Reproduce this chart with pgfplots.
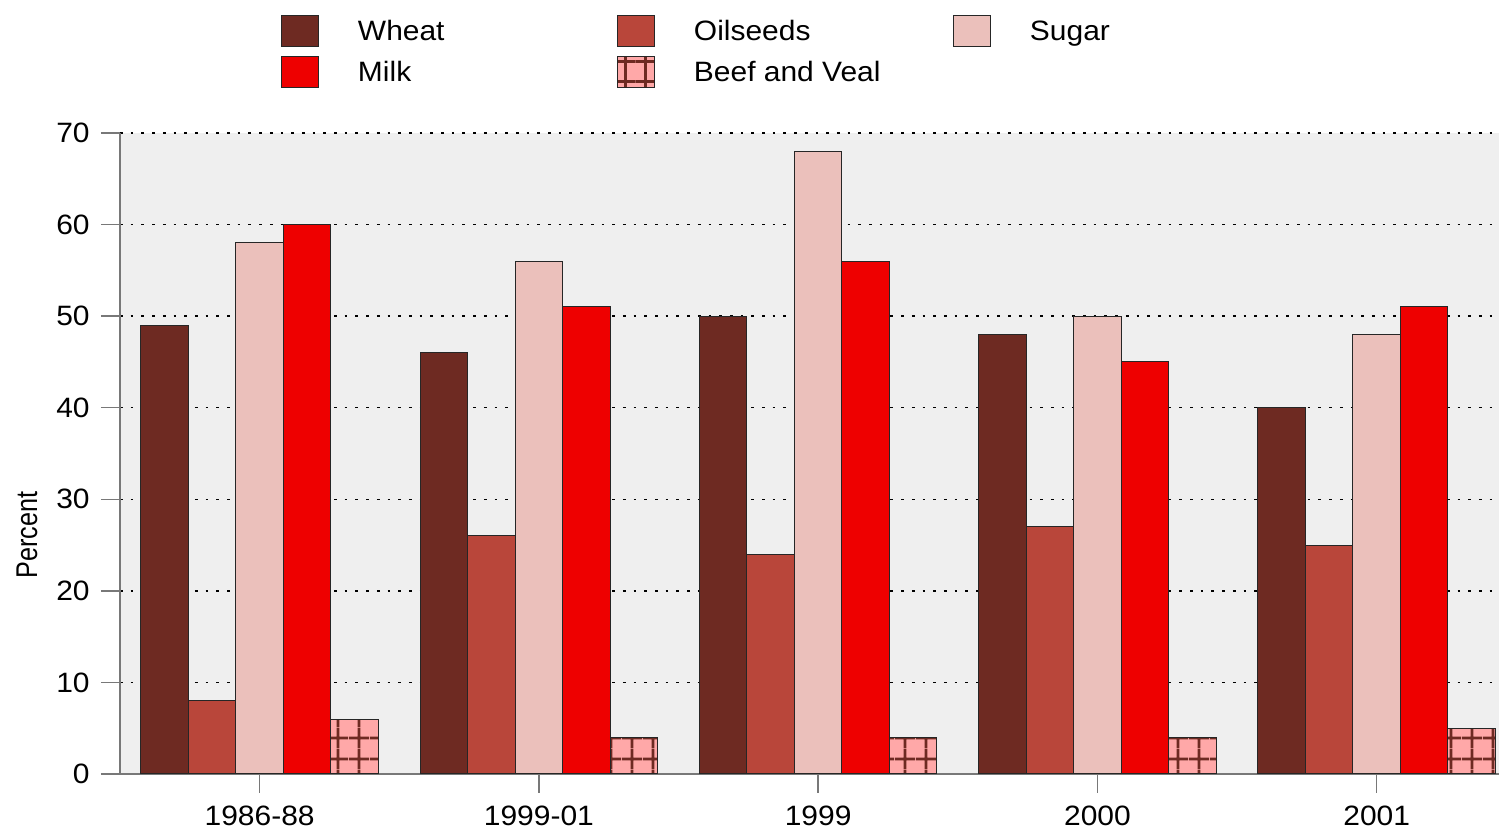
\documentclass[border=0pt]{standalone}
\usepackage{pgfplots}
\pgfplotsset{compat=1.18}
\usepackage{fontspec}
\setmainfont{Liberation Sans}
\newfontfamily\lblfont{Liberation Sans}[FakeStretch=1.07]
\newfontfamily\pctfont{Liberation Sans}[FakeStretch=0.84]
\usetikzlibrary{patterns}
\definecolor{wheatc}{RGB}{110,42,34}
\definecolor{oilc}{RGB}{185,70,58}
\definecolor{sugarc}{RGB}{235,192,187}
\definecolor{milkc}{RGB}{238,0,0}
\definecolor{beefc}{RGB}{255,168,168}
\definecolor{bgc}{RGB}{239,239,239}
\definecolor{axc}{RGB}{120,120,120}
\pgfdeclarepatternformonly{beefgrid}{\pgfpoint{0pt}{0pt}}{\pgfpoint{10.25pt}{10.25pt}}{\pgfpoint{10.25pt}{10.25pt}}{%
  \pgfsetlinewidth{1.4pt}%
  \pgfpathmoveto{\pgfpoint{0pt}{5.1pt}}\pgfpathlineto{\pgfpoint{10.25pt}{5.1pt}}%
  \pgfpathmoveto{\pgfpoint{5.1pt}{0pt}}\pgfpathlineto{\pgfpoint{5.1pt}{10.25pt}}%
  \pgfusepath{stroke}}
\newcommand{\lgt}[1]{\makebox[129.5pt][l]{\rule[-3pt]{0pt}{15.7pt}#1}}
\begin{document}
\begin{tikzpicture}
\useasboundingbox (0,0) rectangle (749.5pt,415pt);
\begin{axis}[
  at={(60pt,28pt)}, anchor=south west,
  width=689.5pt, height=320.5pt, scale only axis,
  xmin=-0.5, xmax=4.438, ymin=0, ymax=70,
  ybar=0pt, bar width=0.1701,
  xtick={0,1,2,3,4},
  xticklabels={1986-88,1999-01,1999,2000,2001},
  ytick={0,10,...,70},
  axis x line*=bottom, axis y line*=left,
  axis line style={draw=axc, line width=0.75pt, -},
  tick align=outside, major tick length=9.5pt,
  tick style={draw=axc, line width=0.75pt},
  ymajorgrids,
  major grid style={draw=black, line width=0.65pt, dash pattern=on 1.35pt off 4pt},
  axis background/.style={fill=bgc},
  /pgf/number format/assume math mode=true,
  ticklabel style={font=\lblfont\fontsize{14}{16}\selectfont},
  yticklabel style={anchor=east, inner sep=0pt, xshift=-5.5pt},
  xticklabel style={anchor=north, inner sep=0pt, yshift=-6.5pt},
  ylabel={Percent},
  ylabel style={at={(axis description cs:-0.0674,0.373)}, anchor=center, font=\pctfont\fontsize{15}{18}\selectfont},
  legend columns=3,
  legend style={at={(axis description cs:0.11675,1.1841)}, anchor=north west,
    draw=none, fill=none, inner sep=0pt, outer sep=0pt, row sep=4.3pt,
    column sep=0pt, cells={anchor=base},
    nodes={inner sep=0pt, outer sep=0pt},
    font=\lblfont\fontsize{14}{16}\selectfont},
  every axis plot post/.append style={
    legend image code/.code={\draw[##1] (0pt,-2.92pt) rectangle (18.5pt,12.58pt); \path (38pt,4.83pt);}},
]
\addplot[fill=wheatc, draw=black!85, line width=0.5pt] coordinates {(0,49) (1,46) (2,50) (3,48) (4,40)};
\addlegendentry{\lgt{Wheat}}
\addplot[fill=oilc, draw=black!85, line width=0.5pt] coordinates {(0,8) (1,26) (2,24) (3,27) (4,25)};
\addlegendentry{\lgt{Oilseeds}}
\addplot[fill=sugarc, draw=black!85, line width=0.5pt] coordinates {(0,58) (1,56) (2,68) (3,50) (4,48)};
\addlegendentry{\lgt{Sugar}}
\addplot[fill=milkc, draw=black!85, line width=0.5pt] coordinates {(0,60) (1,51) (2,56) (3,45) (4,51)};
\addlegendentry{\lgt{Milk}}
\addplot[fill=beefc, draw=black!85, line width=0.5pt, postaction={pattern=beefgrid, pattern color=wheatc}] coordinates {(0,6) (1,4) (2,4) (3,4) (4,5)};
\addlegendentry{\lgt{Beef and Veal}}
\end{axis}
\end{tikzpicture}
\end{document}
